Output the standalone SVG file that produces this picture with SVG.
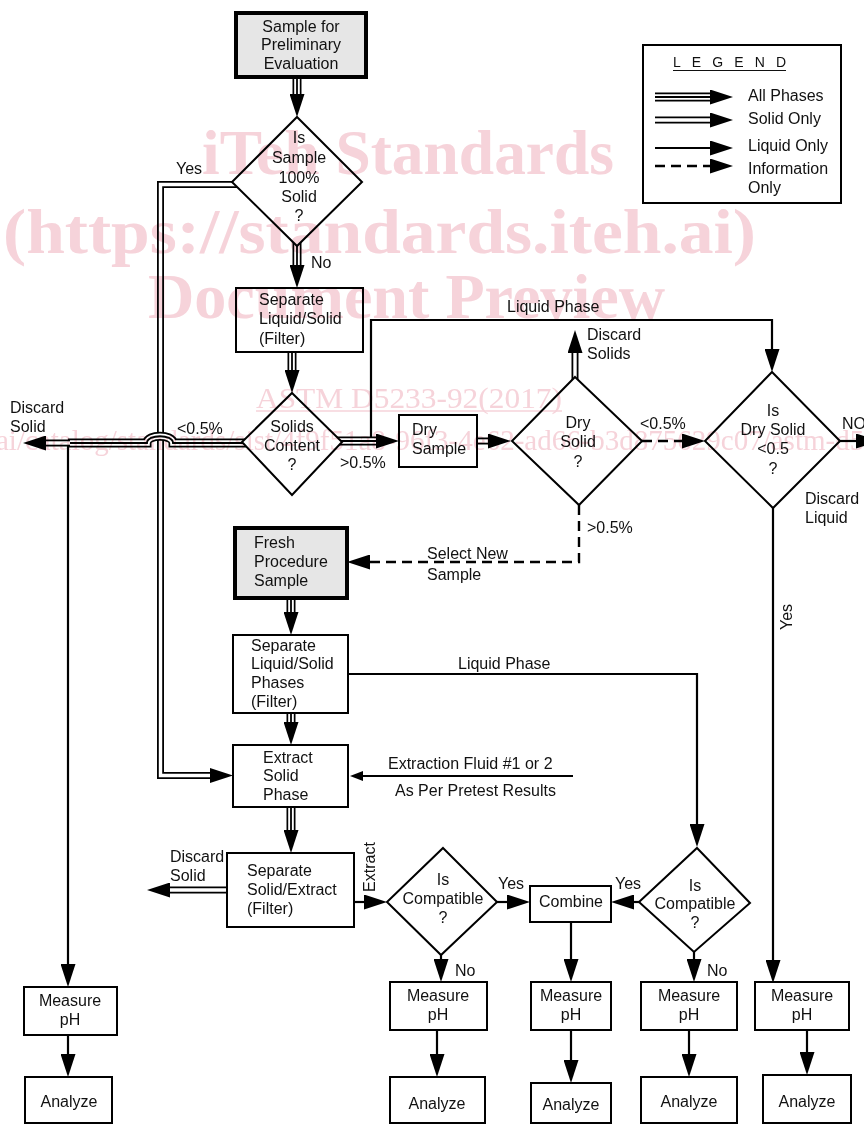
<svg xmlns="http://www.w3.org/2000/svg" xmlns:xlink="http://www.w3.org/1999/xlink" width="864" height="1125" viewBox="0 0 864 1125">
<style>
text{font-family:"Liberation Sans",Arial,sans-serif;font-size:16px;fill:#111}
.c{text-anchor:middle}
.box{fill:#fff;stroke:#000;stroke-width:2}
.tbox{fill:#e6e6e6;stroke:#000;stroke-width:4}
.dia{fill:#fff;stroke:#000;stroke-width:2;stroke-linejoin:miter}
.s1{fill:none;stroke:#000;stroke-width:2.2}
.dsh{fill:none;stroke:#000;stroke-width:2.4;stroke-dasharray:10 6}
.to{fill:none;stroke:#000;stroke-width:9}
.tm{fill:none;stroke:#fff;stroke-width:5.6}
.ti{fill:none;stroke:#000;stroke-width:1.8}
.do{fill:none;stroke:#000;stroke-width:7}
.dm{fill:none;stroke:#fff;stroke-width:3.4}
.wm text{font-family:"Liberation Serif","Times New Roman",serif;fill:#f6d3da}
.wm .big{font-size:64px;font-weight:bold}
.wm .sm{font-size:29px}
</style>
<defs>
<marker id="ah" viewBox="0 0 23 15" refX="0" refY="7.5" markerWidth="23" markerHeight="15" markerUnits="userSpaceOnUse" orient="auto"><path d="M0,0 L23,7.5 L0,15 z" fill="#000"/></marker>
<marker id="ahs" viewBox="0 0 13 10" refX="0" refY="5" markerWidth="13" markerHeight="10" markerUnits="userSpaceOnUse" orient="auto"><path d="M0,0 L13,5 L0,10 z" fill="#000"/></marker>
<path id="p_top" d="M297 70 V94"/>
<path id="p_no" d="M297 238 V265"/>
<path id="p_sep1" d="M292 345 V370"/>
<path id="p_yes" d="M240 184.5 H160.5 V775.5 H210"/>
<path id="p_lt" d="M250 443 H173 C173 434 147 434 147 443 H68"/>
<path id="p_ldis" d="M70 443 H46"/>
<path id="p_rt" d="M330 441 H376"/>
<path id="p_dry" d="M470 441 H488"/>
<path id="p_dissol" d="M575 387 V353"/>
<path id="p_fresh" d="M291 590 V612"/>
<path id="p_sep2" d="M291 705 V722"/>
<path id="p_ext" d="M291 800 V830"/>
<path id="p_dis2" d="M235 890 H170"/>
<path id="p_lgt" d="M655 97 H710"/>
<path id="p_lgd" d="M655 120 H710"/>
</defs>
<rect width="864" height="1125" fill="#fff"/>

<g id="connectors">
<use href="#p_top" class="to"/><use href="#p_top" class="tm"/><use href="#p_top" class="ti" marker-end="url(#ah)"/>
<use href="#p_no" class="to"/><use href="#p_no" class="tm"/><use href="#p_no" class="ti" marker-end="url(#ah)"/>
<use href="#p_sep1" class="to"/><use href="#p_sep1" class="tm"/><use href="#p_sep1" class="ti" marker-end="url(#ah)"/>
<use href="#p_yes" class="do"/><use href="#p_yes" class="dm" marker-end="url(#ah)"/>
<use href="#p_lt" class="to"/><use href="#p_lt" class="tm"/><use href="#p_lt" class="ti"/>
<use href="#p_ldis" class="do"/><use href="#p_ldis" class="dm" marker-end="url(#ah)"/>
<path class="s1" d="M68 446 V964" marker-end="url(#ah)"/>
<use href="#p_rt" class="to"/><use href="#p_rt" class="tm"/><use href="#p_rt" class="ti" marker-end="url(#ah)"/>
<path class="s1" d="M371 437 V320 H772 V349" marker-end="url(#ah)"/>
<use href="#p_dry" class="do"/><use href="#p_dry" class="dm" marker-end="url(#ah)"/>
<use href="#p_dissol" class="do"/><use href="#p_dissol" class="dm" marker-end="url(#ah)"/>
<path class="dsh" d="M642 441 H682" marker-end="url(#ah)"/>
<path class="s1" d="M835 441 H856" marker-end="url(#ah)"/>
<path class="s1" d="M773 506 V960" marker-end="url(#ah)"/>
<path class="dsh" d="M579 505 V562 H370" marker-end="url(#ah)"/>
<use href="#p_fresh" class="to"/><use href="#p_fresh" class="tm"/><use href="#p_fresh" class="ti" marker-end="url(#ah)"/>
<use href="#p_sep2" class="to"/><use href="#p_sep2" class="tm"/><use href="#p_sep2" class="ti" marker-end="url(#ah)"/>
<path class="s1" d="M348 674 H697 V824" marker-end="url(#ah)"/>
<path class="s1" d="M573 776 H363" marker-end="url(#ahs)"/>
<use href="#p_ext" class="to"/><use href="#p_ext" class="tm"/><use href="#p_ext" class="ti" marker-end="url(#ah)"/>
<use href="#p_dis2" class="do"/><use href="#p_dis2" class="dm" marker-end="url(#ah)"/>
<path class="s1" d="M354 902 H364" marker-end="url(#ah)"/>
<path class="s1" d="M497 902 H507" marker-end="url(#ah)"/>
<path class="s1" d="M639 902 H634" marker-end="url(#ah)"/>
<path class="s1" d="M441 953 V959" marker-end="url(#ah)"/>
<path class="s1" d="M571 922 V959" marker-end="url(#ah)"/>
<path class="s1" d="M694 950 V959" marker-end="url(#ah)"/>
<path class="s1" d="M68 1036 V1054" marker-end="url(#ah)"/>
<path class="s1" d="M437 1030 V1054" marker-end="url(#ah)"/>
<path class="s1" d="M571 1030 V1060" marker-end="url(#ah)"/>
<path class="s1" d="M689 1030 V1054" marker-end="url(#ah)"/>
<path class="s1" d="M807 1030 V1052" marker-end="url(#ah)"/>
</g>

<g id="labels">
<text x="176" y="174">Yes</text>
<text x="311" y="268">No</text>
<text x="10" y="413">Discard</text><text x="10" y="432">Solid</text>
<text x="177" y="434">&lt;0.5%</text>
<text x="340" y="468">&gt;0.5%</text>
<text x="507" y="312">Liquid Phase</text>
<text x="587" y="340">Discard</text><text x="587" y="359">Solids</text>
<text x="640" y="429">&lt;0.5%</text>
<text x="842" y="429">NO</text>
<text x="805" y="504">Discard</text><text x="805" y="523">Liquid</text>
<text x="587" y="533">&gt;0.5%</text>
<text x="427" y="559">Select New</text><text x="427" y="580">Sample</text>
<text class="c" transform="translate(792,617) rotate(-90)">Yes</text>
<text x="458" y="669">Liquid Phase</text>
<text x="388" y="769">Extraction Fluid #1 or 2</text>
<text x="395" y="796">As Per Pretest Results</text>
<text x="170" y="862">Discard</text><text x="170" y="881">Solid</text>
<text class="c" transform="translate(375,867) rotate(-90)">Extract</text>
<text x="498" y="889">Yes</text>
<text x="615" y="889">Yes</text>
<text x="455" y="976">No</text>
<text x="707" y="976">No</text>
</g>

<g id="n_sample"><rect class="tbox" x="236" y="13" width="130" height="64"/>
<text class="c" x="301" y="32">Sample for</text><text class="c" x="301" y="50">Preliminary</text><text class="c" x="301" y="69">Evaluation</text></g>
<g id="n_solid100"><polygon class="dia" points="297,117 362,182 297,246 232,182"/>
<text class="c" x="299" y="143">Is</text><text class="c" x="299" y="163">Sample</text><text class="c" x="299" y="183">100%</text><text class="c" x="299" y="202">Solid</text><text class="c" x="299" y="221">?</text></g>
<g id="n_sep1"><rect class="box" x="236" y="288" width="127" height="64"/>
<text x="259" y="305">Separate</text><text x="259" y="324">Liquid/Solid</text><text x="259" y="344">(Filter)</text></g>
<g id="n_solids"><polygon class="dia" points="292,393 342,442 292,495 242,442"/>
<text class="c" x="292" y="432">Solids</text><text class="c" x="292" y="451">Content</text><text class="c" x="292" y="470">?</text></g>
<g id="n_drysample"><rect class="box" x="399" y="415" width="78" height="52"/>
<text x="412" y="435">Dry</text><text x="412" y="454">Sample</text></g>
<g id="n_drysolid"><polygon class="dia" points="575,377 642,441 579,505 512,441"/>
<text class="c" x="578" y="428">Dry</text><text class="c" x="578" y="447">Solid</text><text class="c" x="578" y="467">?</text></g>
<g id="n_isdry"><polygon class="dia" points="772,372 840,441 773,508 705,441"/>
<text class="c" x="773" y="416">Is</text><text class="c" x="773" y="435">Dry Solid</text><text class="c" x="773" y="454">&lt;0.5</text><text class="c" x="773" y="474">?</text></g>
<g id="n_fresh"><rect class="tbox" x="235" y="528" width="112" height="70"/>
<text x="254" y="548">Fresh</text><text x="254" y="567">Procedure</text><text x="254" y="586">Sample</text></g>
<g id="n_sep2"><rect class="box" x="233" y="635" width="115" height="78"/>
<text x="251" y="651">Separate</text><text x="251" y="669">Liquid/Solid</text><text x="251" y="688">Phases</text><text x="251" y="707">(Filter)</text></g>
<g id="n_extract"><rect class="box" x="233" y="745" width="115" height="62"/>
<text x="263" y="763">Extract</text><text x="263" y="781">Solid</text><text x="263" y="800">Phase</text></g>
<g id="n_sepext"><rect class="box" x="227" y="853" width="127" height="74"/>
<text x="247" y="876">Separate</text><text x="247" y="895">Solid/Extract</text><text x="247" y="914">(Filter)</text></g>
<g id="n_comp1"><polygon class="dia" points="443,848 497,902 441,955 387,902"/>
<text class="c" x="443" y="885">Is</text><text class="c" x="443" y="904">Compatible</text><text class="c" x="443" y="923">?</text></g>
<g id="n_combine"><rect class="box" x="530" y="886" width="81" height="36"/>
<text class="c" x="571" y="907">Combine</text></g>
<g id="n_comp2"><polygon class="dia" points="697,848 750,903 694,952 639,902"/>
<text class="c" x="695" y="891">Is</text><text class="c" x="695" y="909">Compatible</text><text class="c" x="695" y="928">?</text></g>
<g id="n_m0"><rect class="box" x="24" y="987" width="93" height="48"/><text class="c" x="70" y="1006">Measure</text><text class="c" x="70" y="1025">pH</text></g>
<g id="n_m1"><rect class="box" x="390" y="982" width="97" height="48"/><text class="c" x="438" y="1001">Measure</text><text class="c" x="438" y="1020">pH</text></g>
<g id="n_m2"><rect class="box" x="531" y="982" width="80" height="48"/><text class="c" x="571" y="1001">Measure</text><text class="c" x="571" y="1020">pH</text></g>
<g id="n_m3"><rect class="box" x="641" y="982" width="96" height="48"/><text class="c" x="689" y="1001">Measure</text><text class="c" x="689" y="1020">pH</text></g>
<g id="n_m4"><rect class="box" x="755" y="982" width="94" height="48"/><text class="c" x="802" y="1001">Measure</text><text class="c" x="802" y="1020">pH</text></g>
<g id="n_a0"><rect class="box" x="25" y="1077" width="87" height="46"/><text class="c" x="69" y="1107">Analyze</text></g>
<g id="n_a1"><rect class="box" x="390" y="1077" width="95" height="46"/><text class="c" x="437" y="1109">Analyze</text></g>
<g id="n_a2"><rect class="box" x="531" y="1083" width="80" height="40"/><text class="c" x="571" y="1110">Analyze</text></g>
<g id="n_a3"><rect class="box" x="641" y="1077" width="96" height="46"/><text class="c" x="689" y="1107">Analyze</text></g>
<g id="n_a4"><rect class="box" x="763" y="1075" width="88" height="48"/><text class="c" x="807" y="1107">Analyze</text></g>

<g id="legend">
<rect class="box" x="643" y="45" width="198" height="158"/>
<text x="673" y="67" textLength="113" lengthAdjust="spacing" style="font-size:14px">LEGEND</text>
<line x1="673" y1="70.5" x2="786" y2="70.5" stroke="#111" stroke-width="1.2"/>
<use href="#p_lgt" class="to"/><use href="#p_lgt" class="tm"/><use href="#p_lgt" class="ti" marker-end="url(#ah)"/>
<use href="#p_lgd" class="do"/><use href="#p_lgd" class="dm" marker-end="url(#ah)"/>
<path class="s1" d="M655 148 H710" marker-end="url(#ah)"/>
<path class="dsh" d="M655 166 H710" marker-end="url(#ah)"/>
<text x="748" y="101">All Phases</text>
<text x="748" y="124">Solid Only</text>
<text x="748" y="151">Liquid Only</text>
<text x="748" y="174">Information</text>
<text x="748" y="193">Only</text>
</g>

<g id="watermark" class="wm" style="mix-blend-mode:multiply">
<text class="big" x="202" y="174" textLength="412" lengthAdjust="spacingAndGlyphs">iTeh Standards</text>
<text class="big" x="3" y="253" textLength="753" lengthAdjust="spacingAndGlyphs">(https://standards.iteh.ai)</text>
<text class="big" x="148" y="318" textLength="517" lengthAdjust="spacingAndGlyphs">Document Preview</text>
<text class="sm" x="256" y="408" textLength="306" lengthAdjust="spacingAndGlyphs">ASTM D5233-92(2017)</text>
<line x1="256" y1="411" x2="562" y2="411" stroke="#f6d3da" stroke-width="1.5"/>
<text class="sm" x="-4" y="450">ai/catalog/standards/sist/4f9f51a8-96f3-4e62-ad66-b3d875629c07/astm-d5233-92-2017</text>
</g>
</svg>
